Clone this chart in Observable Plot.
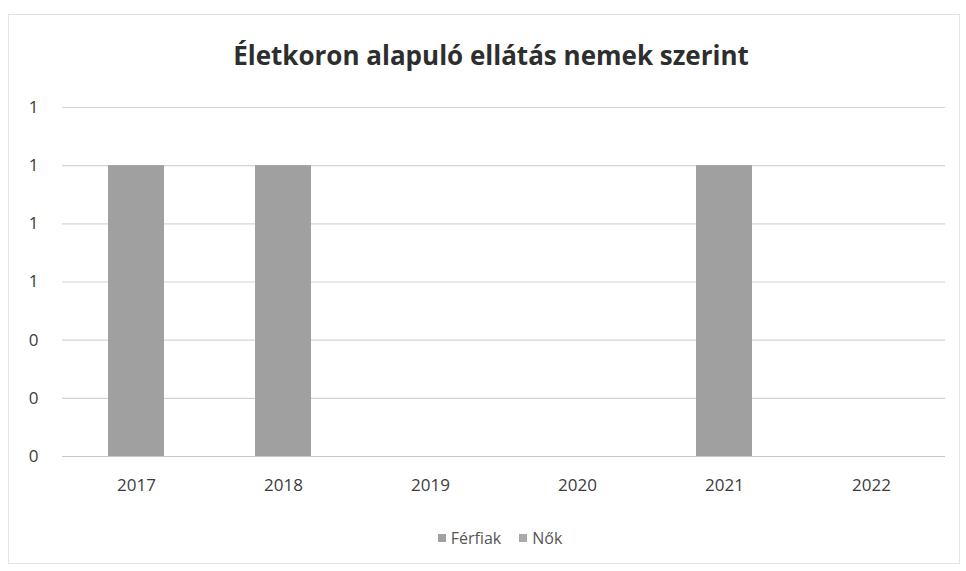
<!DOCTYPE html>
<html>
<head>
<meta charset="utf-8">
<script src="https://cdn.jsdelivr.net/npm/d3@7"></script>
<script src="https://cdn.jsdelivr.net/npm/@observablehq/plot@0.6"></script>
<style>
  body { margin: 0; background: #fff; font-family: "Open Sans", "Liberation Sans", sans-serif; }
  #wrap { position: relative; width: 966px; height: 571px; overflow: hidden; background: #fff; }
  #frame { position: absolute; left: 8px; top: 14px; width: 952px; height: 550px; border: 1px solid #e3e3e3; box-sizing: border-box; }
  #title { position: absolute; left: 0; top: 37px; width: 982px; text-align: center; font-size: 26px; font-weight: bold; color: #2e2e2e; }
  #chart { position: absolute; left: 0; top: 90px; }
  #legend { position: absolute; left: 0; top: 527px; width: 1000px; text-align: center; font-size: 16px; color: #555; }
  #legend span.sw { display: inline-block; width: 8px; height: 8px; margin-right: 5px; vertical-align: 2px; }
  #legend span.item { margin: 0 9px; }
</style>
</head>
<body>
<div id="wrap">
  <div id="frame"></div>
  <div id="title">Életkoron alapuló ellátás nemek szerint</div>
  <div id="chart"></div>
  <div id="legend"></div>
</div>
<script>
const years = ["2017", "2018", "2019", "2020", "2021", "2022"];
const ferfiak = [1, 1, 0, 0, 1, 0];
const nok = [0, 0, 0, 0, 0, 0];
const seriesNames = ["Férfiak", "Nők"];
const seriesColors = ["#a0a0a0", "#a9a9a9"];
const yTicks = [0, 0.2, 0.4, 0.6, 0.8, 1.0, 1.2];
const yTickLabels = ["0", "0", "0", "1", "1", "1", "1"];

const data = [];
years.forEach((y, i) => {
  data.push({year: y, series: seriesNames[0], value: ferfiak[i]});
  data.push({year: y, series: seriesNames[1], value: nok[i]});
});

const chart = Plot.plot({
  width: 966,
  height: 415,
  marginLeft: 62,
  marginRight: 21,
  marginTop: 17,
  marginBottom: 49,
  style: {fontFamily: "'Open Sans', 'Liberation Sans', sans-serif", fontSize: "17px", color: "#3c3c3c", background: "transparent"},
  x: {domain: years, paddingInner: 0.62, paddingOuter: 0.31, label: null, tickSize: 0, tickPadding: 22},
  y: {domain: [0, 1.2], ticks: yTicks, tickFormat: (d) => yTickLabels[yTicks.findIndex(t => Math.abs(t - d) < 1e-9)], label: null, tickSize: 0, tickPadding: 24},
  color: {domain: seriesNames, range: seriesColors},
  marks: [
    Plot.gridY(yTicks, {stroke: "#d4d4d4", strokeOpacity: 1, strokeWidth: 1.2}),
    Plot.barY(data, {x: "year", y: "value", fill: "series"}),
    Plot.ruleY([0], {stroke: "#c8c8c8", strokeWidth: 1.2})
  ]
});
document.getElementById("chart").appendChild(chart);

const legend = document.getElementById("legend");
seriesNames.forEach((n, i) => {
  const item = document.createElement("span");
  item.className = "item";
  const sw = document.createElement("span");
  sw.className = "sw";
  sw.style.background = seriesColors[i];
  item.appendChild(sw);
  item.appendChild(document.createTextNode(n));
  legend.appendChild(item);
});
</script>
</body>
</html>
